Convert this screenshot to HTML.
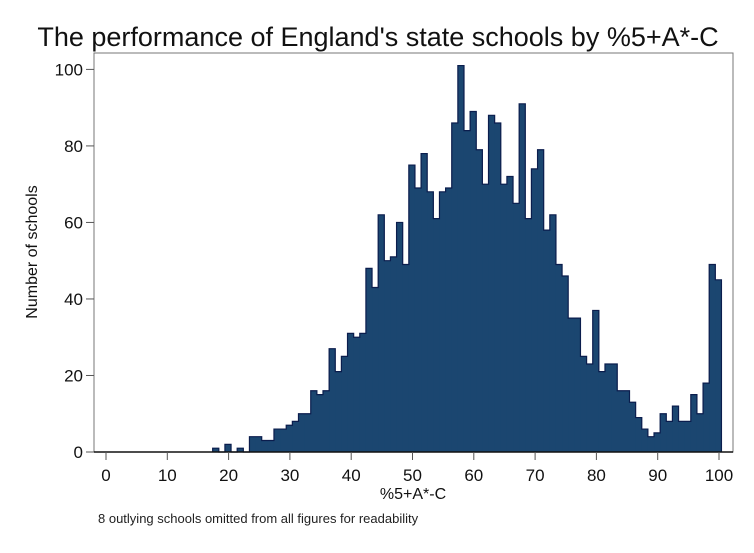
<!DOCTYPE html>
<html><head><meta charset="utf-8"><style>
body{margin:0;background:#fff;}
svg text{font-family:"Liberation Sans",Arial,sans-serif;}
</style></head><body>
<svg id="chart" width="754" height="548" viewBox="0 0 754 548">
<rect width="754" height="548" fill="#fff"/>
<text x="378" y="46" text-anchor="middle" font-size="27" fill="#111">The performance of England's state schools by %5+A*-C</text>
<rect x="94" y="53" width="639" height="399" fill="none" stroke="#777" stroke-width="1"/>
<path id="fillpath" fill="#1b4670" stroke="none"/>
<g id="bars"></g>
<path id="outline" fill="none" stroke="#0b1d4d" stroke-width="1.2"/>
<line x1="94" y1="452" x2="733" y2="452" stroke="#111" stroke-width="1.5"/>
<g id="xticks"></g>
<g id="yticks"></g>
<text x="413" y="499" text-anchor="middle" font-size="16" fill="#111">%5+A*-C</text>
<text transform="translate(37,252) rotate(-90)" text-anchor="middle" font-size="16" fill="#111">Number of schools</text>
<text x="98" y="523" font-size="13" fill="#222">8 outlying schools omitted from all figures for readability</text>
</svg>
<script>
const binStart = 17.4;
const binWidth = 1;
const counts = [1,0,2,0,1,0,4,4,3,3,6,6,7,8,10,10,16,15,16,27,21,25,31,30,31,48,43,62,50,51,60,49,75,69,78,68,61,68,69,86,101,84,89,79,70,88,86,70,72,65,91,61,74,79,58,62,49,46,35,35,25,23,37,21,23,23,16,16,13,9,6,4,5,10,8,12,8,8,15,10,18,49,45];
const xTicks = [0,10,20,30,40,50,60,70,80,90,100];
const yTicks = [0,20,40,60,80,100];

const NS = "http://www.w3.org/2000/svg";
function xs(v){ return 106 + v * 6.13; }
function ys(v){ return 452 - v * 3.826; }

const bars = document.getElementById('bars');
let d = 'M' + xs(binStart) + ',' + ys(0);
counts.forEach((c, i) => {
  const x0 = xs(binStart + i * binWidth), x1 = xs(binStart + (i + 1) * binWidth);
  d += ' L' + x0 + ',' + ys(c) + ' L' + x1 + ',' + ys(c);
  if (c <= 0) return;
  const r = document.createElementNS(NS, 'rect');
  r.setAttribute('x', x0);
  r.setAttribute('y', ys(c));
  r.setAttribute('width', x1 - x0 + 0.3);
  r.setAttribute('height', ys(0) - ys(c));
  r.setAttribute('fill', '#1b4670');
  
  
  bars.appendChild(r);
});
d += ' L' + xs(binStart + counts.length * binWidth) + ',' + ys(0);
document.getElementById('outline').setAttribute('d', d);
document.getElementById('fillpath').setAttribute('d', d + ' Z');

const xg = document.getElementById('xticks');
xTicks.forEach(t => {
  const l = document.createElementNS(NS, 'line');
  l.setAttribute('x1', xs(t)); l.setAttribute('x2', xs(t));
  l.setAttribute('y1', 452); l.setAttribute('y2', 460);
  l.setAttribute('stroke', '#555');
  
  
  xg.appendChild(l);
  const tx = document.createElementNS(NS, 'text');
  tx.setAttribute('x', xs(t)); tx.setAttribute('y', 481);
  tx.setAttribute('text-anchor', 'middle');
  tx.setAttribute('font-size', '17'); tx.setAttribute('fill', '#111');
  tx.textContent = t;
  
  
  xg.appendChild(tx);
});

const yg = document.getElementById('yticks');
yTicks.forEach(t => {
  const l = document.createElementNS(NS, 'line');
  l.setAttribute('x1', 86); l.setAttribute('x2', 94);
  l.setAttribute('y1', ys(t)); l.setAttribute('y2', ys(t));
  l.setAttribute('stroke', '#555');
  
  
  yg.appendChild(l);
  const tx = document.createElementNS(NS, 'text');
  tx.setAttribute('x', 83); tx.setAttribute('y', ys(t) + 6);
  tx.setAttribute('text-anchor', 'end');
  tx.setAttribute('font-size', '17'); tx.setAttribute('fill', '#111');
  tx.textContent = t;
  
  
  yg.appendChild(tx);
});
</script>
</body></html>
